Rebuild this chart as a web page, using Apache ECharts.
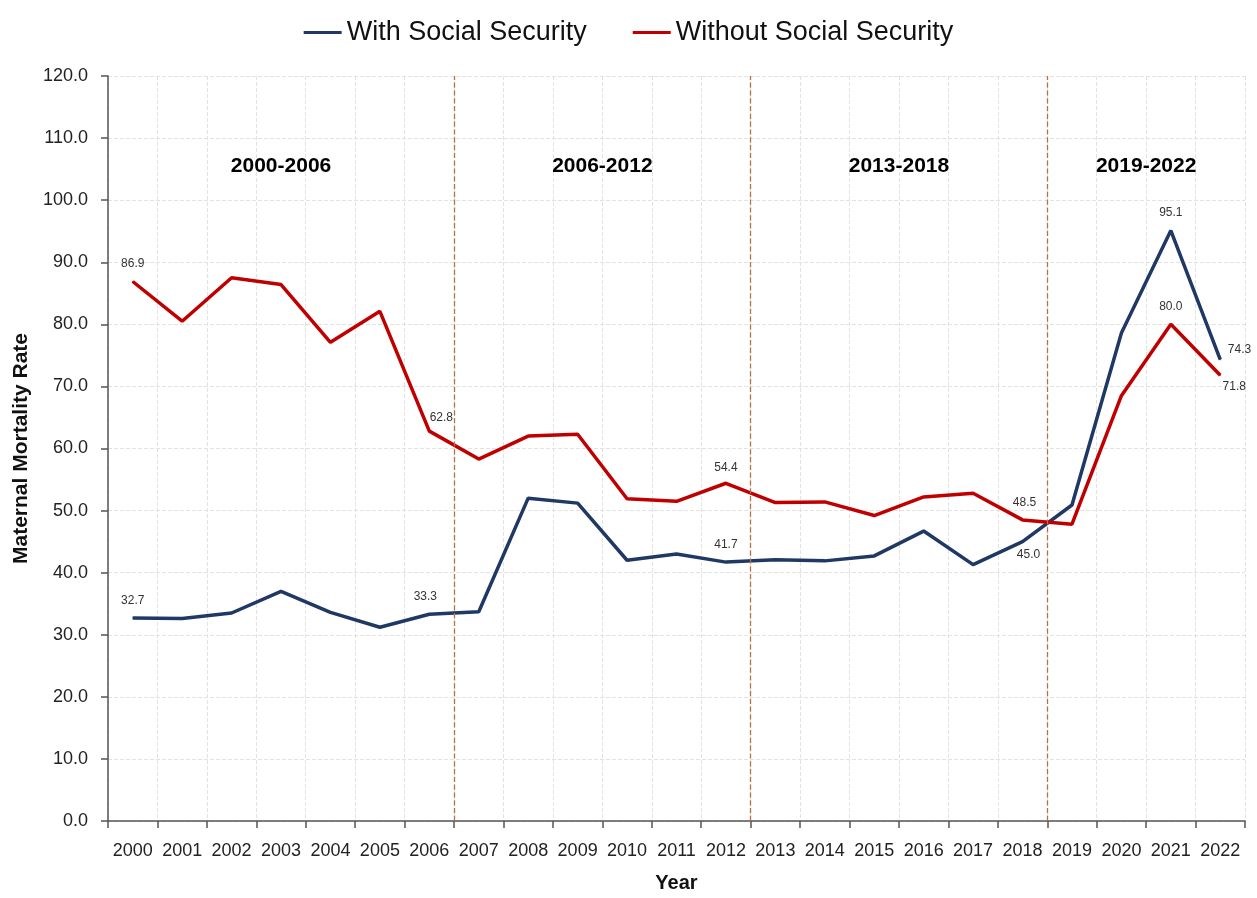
<!DOCTYPE html>
<html>
<head>
<meta charset="utf-8">
<script src="https://cdn.jsdelivr.net/npm/echarts@6/dist/echarts.min.js"></script>
<style>
html,body{margin:0;padding:0;background:#fff;}
#chart{width:1257px;height:898px;}
</style>
</head>
<body>
<div id="chart"></div>
<script>
// ---- data ----
const years = ['2000','2001','2002','2003','2004','2005','2006','2007','2008','2009','2010','2011','2012','2013','2014','2015','2016','2017','2018','2019','2020','2021','2022'];
const withSS = [32.7,32.6,33.5,37.0,33.6,31.2,33.3,33.7,52.0,51.2,42.0,43.0,41.7,42.1,41.9,42.7,46.7,41.3,45.0,50.9,78.6,95.1,74.3];
const withoutSS = [86.9,80.5,87.5,86.4,77.1,82.1,62.8,58.3,62.0,62.3,51.9,51.5,54.4,51.3,51.4,49.2,52.2,52.8,48.5,47.8,68.5,80.0,71.8];
const periodNames = ['2000-2006','2006-2012','2013-2018','2019-2022'];
const periodBounds = [0,7,13,19,23];   // category-boundary indices
const yTicks = [0,10,20,30,40,50,60,70,80,90,100,110,120];

const FONT = "'Liberation Sans Narrow','Arial Narrow','Liberation Sans',Arial,sans-serif";

// label placement per labeled point (style only)
const blueLabels = {0:{offset:[0,-6]},6:{offset:[-4,-6]},12:{offset:[0,-6]},18:{position:'bottom',offset:[6,2]},21:{offset:[0,-6]},22:{position:'right',offset:[2,-10]}};
const redLabels  = {0:{offset:[0,-6]},6:{offset:[12,-2]},12:{offset:[0,-4]},18:{offset:[2,-6]},21:{offset:[0,-6]},22:{position:'bottom',offset:[14,0]}};

function build(vals, cfg){
  return vals.map((v,i)=>{
    const item = {value:v};
    if(cfg[i]){
      item.label = Object.assign({show:true,position:'top',fontSize:12,color:'#333',fontFamily:FONT,formatter:(p)=>Number(p.value).toFixed(1)},cfg[i]);
    }
    return item;
  });
}

const regionData = periodNames.map((n,i)=>[(periodBounds[i]+periodBounds[i+1])/2, 105.4, n]);

const chart = echarts.init(document.getElementById('chart'));
chart.setOption({
  animation:false,
  backgroundColor:'#fff',
  textStyle:{fontFamily:FONT},
  legend:{
    top:14, left:'center',
    itemWidth:38, itemHeight:3, itemGap:46,
    icon:'rect',
    textStyle:{fontSize:27,color:'#111',fontFamily:FONT},
    data:['With Social Security','Without Social Security']
  },
  grid:{left:108,right:12,top:76,bottom:71,containLabel:false},
  xAxis:[{
    type:'category', data:years, boundaryGap:true,
    name:'Year', nameLocation:'middle', nameGap:52,
    nameTextStyle:{fontSize:20,fontWeight:'bold',color:'#111',fontFamily:FONT},
    axisLine:{lineStyle:{color:'#555',width:1.5}},
    axisTick:{show:true,interval:0,length:7,lineStyle:{color:'#555',width:1.5}},
    axisLabel:{interval:0,fontSize:18,color:'#222',margin:21,fontFamily:FONT},
    splitLine:{show:true,interval:0,lineStyle:{color:'#e2e2e2',type:'dashed',width:1}}
  },{
    type:'value', min:periodBounds[0], max:periodBounds[periodBounds.length-1], show:false
  }],
  yAxis:{
    type:'value', min:yTicks[0], max:yTicks[yTicks.length-1], interval:10,
    name:'Maternal Mortality Rate', nameLocation:'middle', nameGap:76, nameRotate:90,
    nameTextStyle:{fontSize:21,fontWeight:'bold',color:'#111',fontFamily:FONT},
    axisLine:{show:true,lineStyle:{color:'#555',width:1.5}},
    axisTick:{show:true,length:7,lineStyle:{color:'#555',width:1.5}},
    axisLabel:{fontSize:18,color:'#222',margin:20,fontFamily:FONT,formatter:(v)=>v.toFixed(1)},
    splitLine:{show:true,lineStyle:{color:'#e2e2e2',type:'dashed',width:1}}
  },
  series:[
    {
      name:'With Social Security', type:'line', data:build(withSS,blueLabels),
      symbol:'circle', symbolSize:1, showSymbol:true,
      lineStyle:{color:'#203864',width:3.5}, itemStyle:{color:'#203864'}, z:3
    },
    {
      name:'Without Social Security', type:'line', data:build(withoutSS,redLabels),
      symbol:'circle', symbolSize:1, showSymbol:true,
      lineStyle:{color:'#c00000',width:3.5}, itemStyle:{color:'#c00000'}, z:3
    },
    {
      name:'periods', type:'scatter', xAxisIndex:1, yAxisIndex:0,
      data:regionData, symbolSize:1, silent:true, itemStyle:{opacity:0},
      label:{show:true,position:'inside',opacity:1,formatter:(p)=>p.data[2],fontSize:21,fontWeight:'bold',color:'#000',fontFamily:FONT},
      markLine:{
        silent:true, symbol:'none', z:4,
        label:{show:false},
        lineStyle:{color:'#b5704a',type:'dashed',width:1.3,opacity:1},
        data:periodBounds.slice(1,-1).map(b=>({xAxis:b}))
      }
    }
  ]
});
</script>
</body>
</html>
